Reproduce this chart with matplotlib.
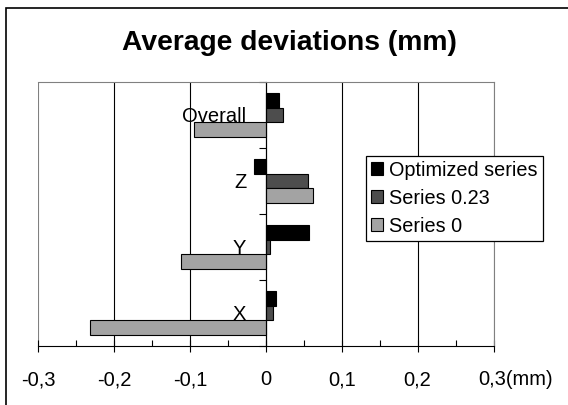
import matplotlib
matplotlib.use("Agg")
import matplotlib.pyplot as plt
import matplotlib.transforms as mtransforms
from matplotlib.patches import Rectangle
import numpy as np

categories = ["X", "Y", "Z", "Overall"]
optimized = [0.013, 0.057, -0.016, 0.018]
series_023 = [0.010, 0.005, 0.055, 0.023]
series_0 = [-0.231, -0.111, 0.062, -0.095]
xticks = [-0.3, -0.2, -0.1, 0.0, 0.1, 0.2, 0.3]
xticklabels = ["-0,3", "-0,2", "-0,1", "0", "0,1", "0,2", "0,3(mm)"]

plt.rcParams['font.family'] = ['Liberation Sans', 'DejaVu Sans']


def plotChart():
	fig = plt.figure(figsize=(5.68, 4.05), dpi=100)
	ax = fig.add_axes([38/568, 59/405, 455.5/568, 264/405])

	pos = np.arange(len(categories))
	h = 0.222
	ax.barh(pos + h, optimized, height=h, color='#000000', edgecolor='black', linewidth=0.8, label='Optimized series')
	ax.barh(pos, series_023, height=h, color='#4d4d4d', edgecolor='black', linewidth=0.8, label='Series 0.23')
	ax.barh(pos - h, series_0, height=h, color='#a3a3a3', edgecolor='black', linewidth=0.8, label='Series 0')

	ax.set_xlim(-0.3, 0.3)
	ax.set_ylim(-0.5, len(categories) - 0.5)

	# x axis
	ax.set_xticks(xticks)
	ax.set_xticklabels(xticklabels, fontsize=14.5)
	ax.set_xticks(np.arange(-0.25, 0.3, 0.1), minor=True)
	ax.tick_params(axis='x', which='major', direction='inout', length=9, width=0.8, pad=13)
	ax.tick_params(axis='x', which='minor', direction='in', length=4, width=0.8)
	ax.xaxis.grid(True, which='major', color='black', linewidth=0.8)
	for i, gl in enumerate(ax.get_xgridlines()):
		if i == 0 or i == len(xticks) - 1:
			gl.set_color('#808080')
	# "(mm)" hangs after the last label, keep "0,3" on its tick
	last = ax.get_xticklabels()[-1]
	last.set_transform(last.get_transform() + mtransforms.ScaledTranslation(0.22, 0, fig.dpi_scale_trans))

	# category axis sits at zero
	ax.spines['left'].set_position(('data', 0))
	ax.spines['left'].set_color('black')
	ax.spines['top'].set_color('#808080')
	ax.spines['right'].set_color('#808080')
	ax.spines['bottom'].set_color('black')
	ax.set_yticks(np.arange(-0.5, len(categories), 1.0))
	ax.set_yticklabels([])
	ax.set_yticks(pos, minor=True)
	ax.set_yticklabels(categories, minor=True, fontsize=14.5)
	ax.tick_params(axis='y', which='major', direction='out', length=5, width=0.8)
	ax.tick_params(axis='y', which='minor', length=0, pad=14)
	ax.set_axisbelow(True)

	fig.text(0.509, 0.893, "Average deviations (mm)", ha='center', va='center', fontsize=20.3, fontweight='bold')

	leg = ax.legend(loc='upper left', bbox_to_anchor=(366/568, 1 - 155.7/405), bbox_transform=fig.transFigure,
		fontsize=14.3, frameon=True, fancybox=False, framealpha=1, edgecolor='black',
		handlelength=0.62, handleheight=0.62, handletextpad=0.3, borderpad=0.25, labelspacing=0.45, borderaxespad=0)
	leg.get_frame().set_linewidth(0.9)

	# chart border, only left and top show inside the picture
	fig.patches.append(Rectangle((6/568, -0.1), 1.2, 1.1 - 7.5/405, transform=fig.transFigure,
		fill=False, edgecolor='black', linewidth=1.2))

	fig.savefig("out.png", dpi=100)


def main():
	plotChart()

main()
